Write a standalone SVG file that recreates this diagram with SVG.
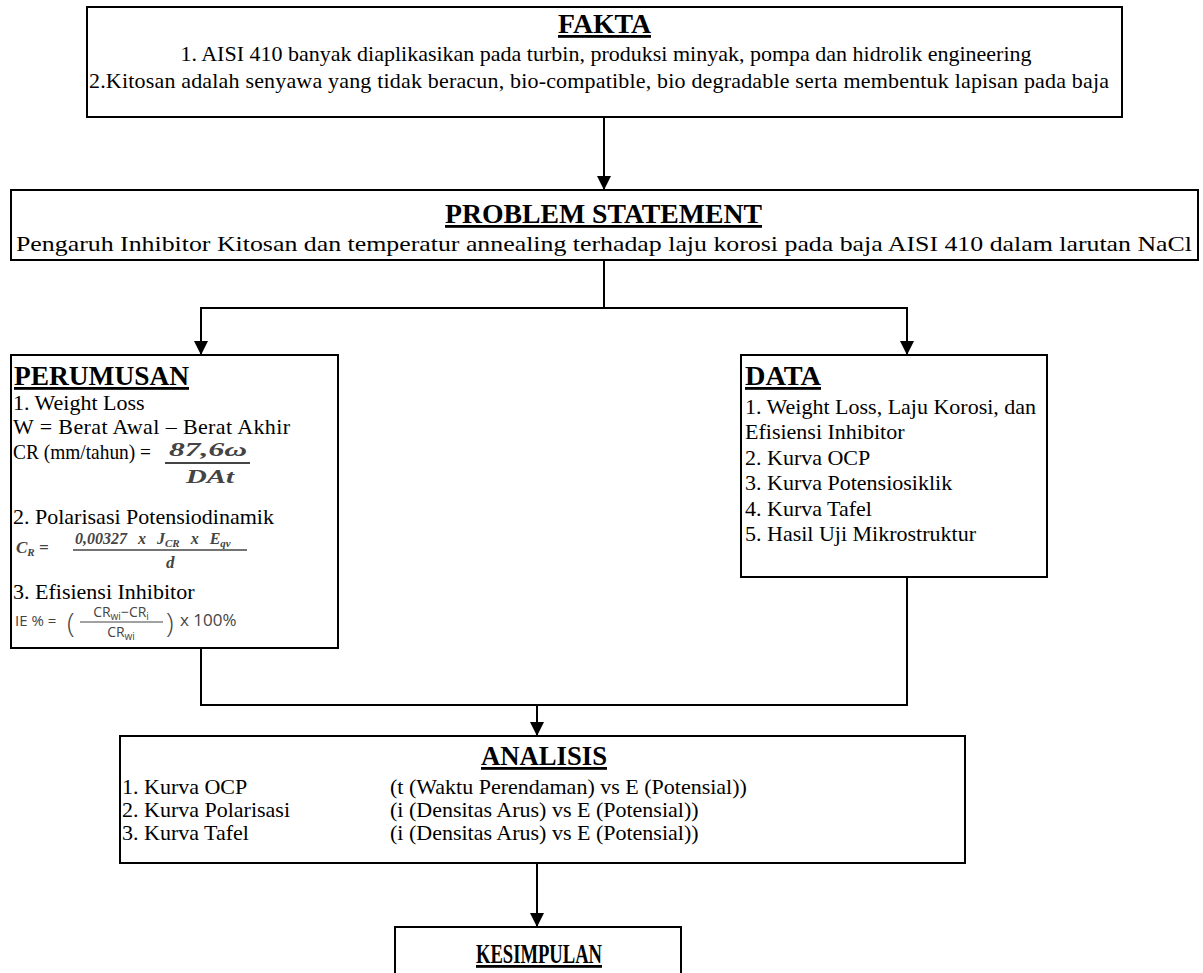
<svg xmlns="http://www.w3.org/2000/svg" width="1203" height="973" viewBox="0 0 1203 973">
<defs>
<marker id="ah" viewBox="0 0 10 10" refX="10" refY="5" markerWidth="16" markerHeight="14" markerUnits="userSpaceOnUse" orient="auto">
<path d="M0,0 L10,5 L0,10 z" fill="#000"/>
</marker>
<style>
.box{fill:#fff;stroke:#000;stroke-width:2}
.t{font-family:"Liberation Serif","Times New Roman",serif;fill:#000;font-size:22px}
.h{font-weight:bold;text-decoration:underline;font-size:28px}
.ln{fill:none;stroke:#000;stroke-width:2}
.m{font-family:"Liberation Serif","Times New Roman",serif;font-style:italic;font-weight:bold;fill:#444}
.s{font-family:"Open Sans","Liberation Sans",sans-serif;fill:#444}
.fb{stroke:#444;fill:none}
</style>
</defs>
<rect width="1203" height="973" fill="#fff"/>

<g id="connectors">
<path class="ln" d="M604,117 V190" marker-end="url(#ah)"/>
<path class="ln" d="M604,260 V308 H201 V355" marker-end="url(#ah)"/>
<path class="ln" d="M604,308 H907 V355" marker-end="url(#ah)"/>
<path class="ln" d="M201,648 V705 H907 V577"/>
<path class="ln" d="M537,705 V736" marker-end="url(#ah)"/>
<path class="ln" d="M537,863 V927" marker-end="url(#ah)"/>
</g>

<g id="fakta">
<rect class="box" x="87" y="7" width="1035" height="110"/>
<text class="t h" x="558" y="33" textLength="93" lengthAdjust="spacingAndGlyphs">FAKTA</text>
<text class="t" x="606" y="61" font-size="22.5" text-anchor="middle">1. AISI 410 banyak diaplikasikan pada turbin, produksi minyak, pompa dan hidrolik engineering</text>
<text class="t" x="89" y="88" textLength="1020" lengthAdjust="spacing">2.Kitosan adalah senyawa yang tidak beracun, bio-compatible, bio degradable serta membentuk lapisan pada baja</text>
</g>

<g id="problem">
<rect class="box" x="11" y="190" width="1187" height="70"/>
<text class="t h" x="445" y="223" font-size="26" textLength="317" lengthAdjust="spacingAndGlyphs">PROBLEM STATEMENT</text>
<text class="t" x="16" y="251" font-size="25" textLength="1176" lengthAdjust="spacingAndGlyphs">Pengaruh Inhibitor Kitosan dan temperatur annealing terhadap laju korosi pada baja AISI 410 dalam larutan NaCl</text>
</g>

<g id="perumusan">
<rect class="box" x="11" y="355" width="327" height="293"/>
<text class="t h" x="14" y="385" textLength="175" lengthAdjust="spacingAndGlyphs">PERUMUSAN</text>
<text class="t" x="13" y="410">1. Weight Loss</text>
<text class="t" x="13" y="434" textLength="277" lengthAdjust="spacing">W = Berat Awal – Berat Akhir</text>
<text class="t" x="13" y="459" font-size="20" textLength="138" lengthAdjust="spacingAndGlyphs">CR (mm/tahun) =</text>
<text class="m" x="169" y="456" font-size="18" textLength="78" lengthAdjust="spacingAndGlyphs">87,6ω</text>
<line class="fb" x1="165" y1="463" x2="250" y2="463" stroke-width="2"/>
<text class="m" x="186" y="483" font-size="18" textLength="48" lengthAdjust="spacingAndGlyphs">DAt</text>
<text class="t" x="13" y="524">2. Polarisasi Potensiodinamik</text>
<text class="m" x="16" y="553" font-size="17">C<tspan font-size="11" dy="3">R</tspan><tspan dy="-3"> =</tspan></text>
<text class="m" x="75" y="544" font-size="16" word-spacing="7">0,00327 x J<tspan font-size="11" dy="3">CR</tspan><tspan dy="-3"> x E</tspan><tspan font-size="11" dy="3">qv</tspan></text>
<line class="fb" x1="73" y1="550" x2="247" y2="550" stroke-width="1.5"/>
<text class="m" x="166" y="568" font-size="17">d</text>
<text class="t" x="13" y="599">3. Efisiensi Inhibitor</text>
<text class="s" x="15" y="626" font-size="15">IE % =</text>
<text class="s" x="67" y="633" font-size="28" font-weight="300">(</text>
<text class="s" x="121" y="617" font-size="14" text-anchor="middle">CR<tspan font-size="10" dy="3">wi</tspan><tspan dy="-3">−CR</tspan><tspan font-size="10" dy="3">i</tspan></text>
<line class="fb" x1="80" y1="622" x2="163" y2="622" stroke-width="1.2"/>
<text class="s" x="121" y="637" font-size="14" text-anchor="middle">CR<tspan font-size="10" dy="3">wi</tspan></text>
<text class="s" x="166" y="633" font-size="28" font-weight="300">)</text>
<text class="s" x="180" y="626" font-size="17">x 100%</text>
</g>

<g id="data">
<rect class="box" x="741" y="355" width="306" height="222"/>
<text class="t h" x="745" y="385" textLength="76" lengthAdjust="spacingAndGlyphs">DATA</text>
<text class="t" x="745" y="414">1. Weight Loss, Laju Korosi, dan</text>
<text class="t" x="745" y="439">Efisiensi Inhibitor</text>
<text class="t" x="745" y="465">2. Kurva OCP</text>
<text class="t" x="745" y="490">3. Kurva Potensiosiklik</text>
<text class="t" x="745" y="516">4. Kurva Tafel</text>
<text class="t" x="745" y="541">5. Hasil Uji Mikrostruktur</text>
</g>

<g id="analisis">
<rect class="box" x="120" y="736" width="845" height="127"/>
<text class="t h" x="481" y="765" font-size="26" textLength="126" lengthAdjust="spacingAndGlyphs">ANALISIS</text>
<text class="t" x="122" y="794">1. Kurva OCP</text>
<text class="t" x="390" y="794">(t (Waktu Perendaman) vs E (Potensial))</text>
<text class="t" x="122" y="817">2. Kurva Polarisasi</text>
<text class="t" x="390" y="817">(i (Densitas Arus) vs E (Potensial))</text>
<text class="t" x="122" y="840">3. Kurva Tafel</text>
<text class="t" x="390" y="840">(i (Densitas Arus) vs E (Potensial))</text>
</g>

<g id="kesimpulan">
<path class="ln" d="M395,985 V927 H681 V985"/>
<text class="t h" x="476" y="963" font-size="25" textLength="126" lengthAdjust="spacingAndGlyphs">KESIMPULAN</text>
</g>
</svg>
